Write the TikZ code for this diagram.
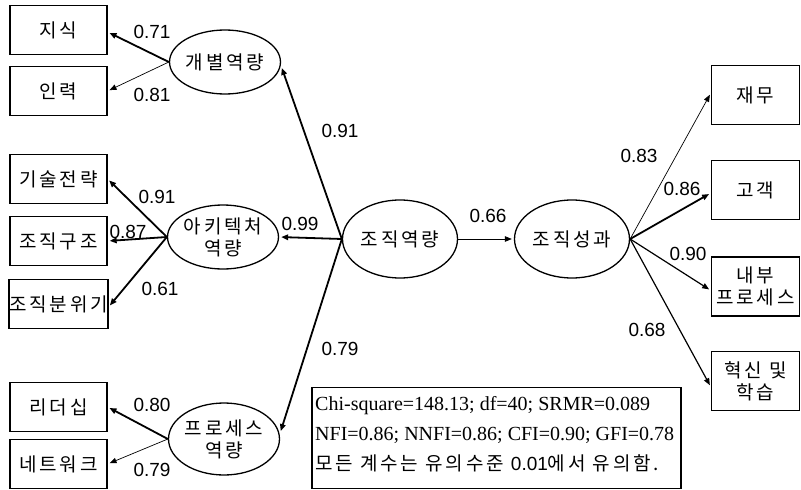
\documentclass[tikz,border=0pt]{standalone}
\usepackage{fontspec}
\setmainfont{Liberation Sans}
\newfontfamily\krfam[LetterSpace=15]{Noto Sans CJK KR}
\newfontfamily\tmsfam{Liberation Serif}
\usetikzlibrary{arrows.meta,shapes.geometric}
\newcommand{\kfont}{\krfam\fontsize{19}{22}\selectfont}
\newcommand{\cfont}{\fontsize{19}{22}\selectfont}
\newcommand{\sfont}{\tmsfam\fontsize{20}{24}\selectfont}
\newcommand{\numtxt}[1]{{\rmfamily\fontsize{19}{22}\selectfont #1}}

\begin{document}
\begin{tikzpicture}[x=1pt,y=-1pt,
  every node/.style={inner sep=0pt},
  obs/.style={draw,line width=1.3pt,minimum width=97pt,minimum height=49pt,font=\kfont,align=center},
  obsr/.style={obs,minimum width=88pt,minimum height=59pt},
  lat/.style={draw,ellipse,line width=1.3pt,minimum width=102pt,minimum height=64pt,font=\kfont,align=center},
  core/.style={lat,minimum width=115pt,minimum height=78pt},
  coef/.style={font=\cfont},
  fitline/.style={anchor=west,font=\sfont},
  tip/.style={-{Triangle[length=7pt,width=5.5pt]},shorten >=2pt},
  heavy/.style={tip,line width=1.8pt},
  medium/.style={tip,line width=1.2pt},
  light/.style={tip,line width=0.7pt}]
\useasboundingbox (0,0) rectangle (801,490);

% observed indicators, left side
\node[obs] (k1) at (58.5,30) {지식};
\node[obs] (k2) at (58.5,91) {인력};
\node[obs] (a1) at (58.5,179) {기술전략};
\node[obs] (a2) at (58.5,241) {조직구조};
\node[obs] (a3) at (58.5,304) {조직분위기};
\node[obs] (p1) at (58.5,407) {리더십};
\node[obs] (p2) at (58.5,464) {네트워크};

% observed indicators, right side
\node[obsr] (r1) at (755.5,95) {재무};
\node[obsr] (r2) at (755.5,190) {고객};
\node[obsr] (r3) at (755.5,286.5) {내부\\프로세스};
\node[obsr] (r4) at (755.5,381) {혁신 및\\학습};

% latent factors
\node[lat] (ind) at (225,62) {개별역량};
\node[lat] (arc) at (223,237) {아키텍처\\역량};
\node[lat,minimum height=72pt] (pro) at (224,439) {프로세스\\역량};
\node[core] (oc) at (400,239) {조직역량};
\node[core] (op) at (572,239) {조직성과};

% loadings
\draw[heavy] (ind.west) -- ([yshift=-2pt]k1.east);
\draw[light] (ind.west) -- (k2.east);
\draw[heavy] (arc.west) -- (a1.east);
\draw[heavy] (arc.west) -- (a2.east);
\draw[heavy] (arc.west) -- ([yshift=-3pt]a3.east);
\draw[heavy] (pro.west) -- (p1.east);
\draw[light] (pro.west) -- (p2.east);

% second-order paths
\draw[heavy] (oc.west) -- ([yshift=-4pt]ind.east);
\draw[heavy] (oc.west) -- (arc.east);
\draw[heavy] (oc.west) -- ([yshift=6pt]pro.east);
\draw[light] (oc.east) -- (op.west);

% performance indicators
\draw[light] (op.east) -- ([yshift=2pt]r1.west);
\draw[heavy] (op.east) -- ([yshift=-3pt]r2.west);
\draw[medium] (op.east) -- ([yshift=-4pt]r3.west);
\draw[medium] (op.east) -- ([yshift=-6pt]r4.west);

% coefficients
\node[coef] at (152,32) {0.71};
\node[coef] at (152,95) {0.81};
\node[coef] at (157,197) {0.91};
\node[coef] at (128,232) {0.87};
\node[coef] at (160,289) {0.61};
\node[coef] at (152,405) {0.80};
\node[coef] at (152,470) {0.79};
\node[coef] at (340,131) {0.91};
\node[coef] at (300,224) {0.99};
\node[coef] at (340,349) {0.79};
\node[coef] at (488,216) {0.66};
\node[coef] at (639,156) {0.83};
\node[coef] at (682,189) {0.86};
\node[coef] at (688,254) {0.90};
\node[coef] at (647,330) {0.68};

% fit statistics
\node[draw,line width=1.3pt,minimum width=369pt,minimum height=101pt] (fit) at (496.5,438) {};
\node[fitline] (f1) at (315,406) {Chi-square=148.13; df=40; SRMR=0.089};
\node[fitline] (f2) at (315,435) {NFI=0.86; NNFI=0.86; CFI=0.90; GFI=0.78};
\node[fitline,font=\kfont] (f3) at (315,463) {모든 계수는 유의수준 \numtxt{0.01}에서 유의함.};
\end{tikzpicture}
\end{document}
